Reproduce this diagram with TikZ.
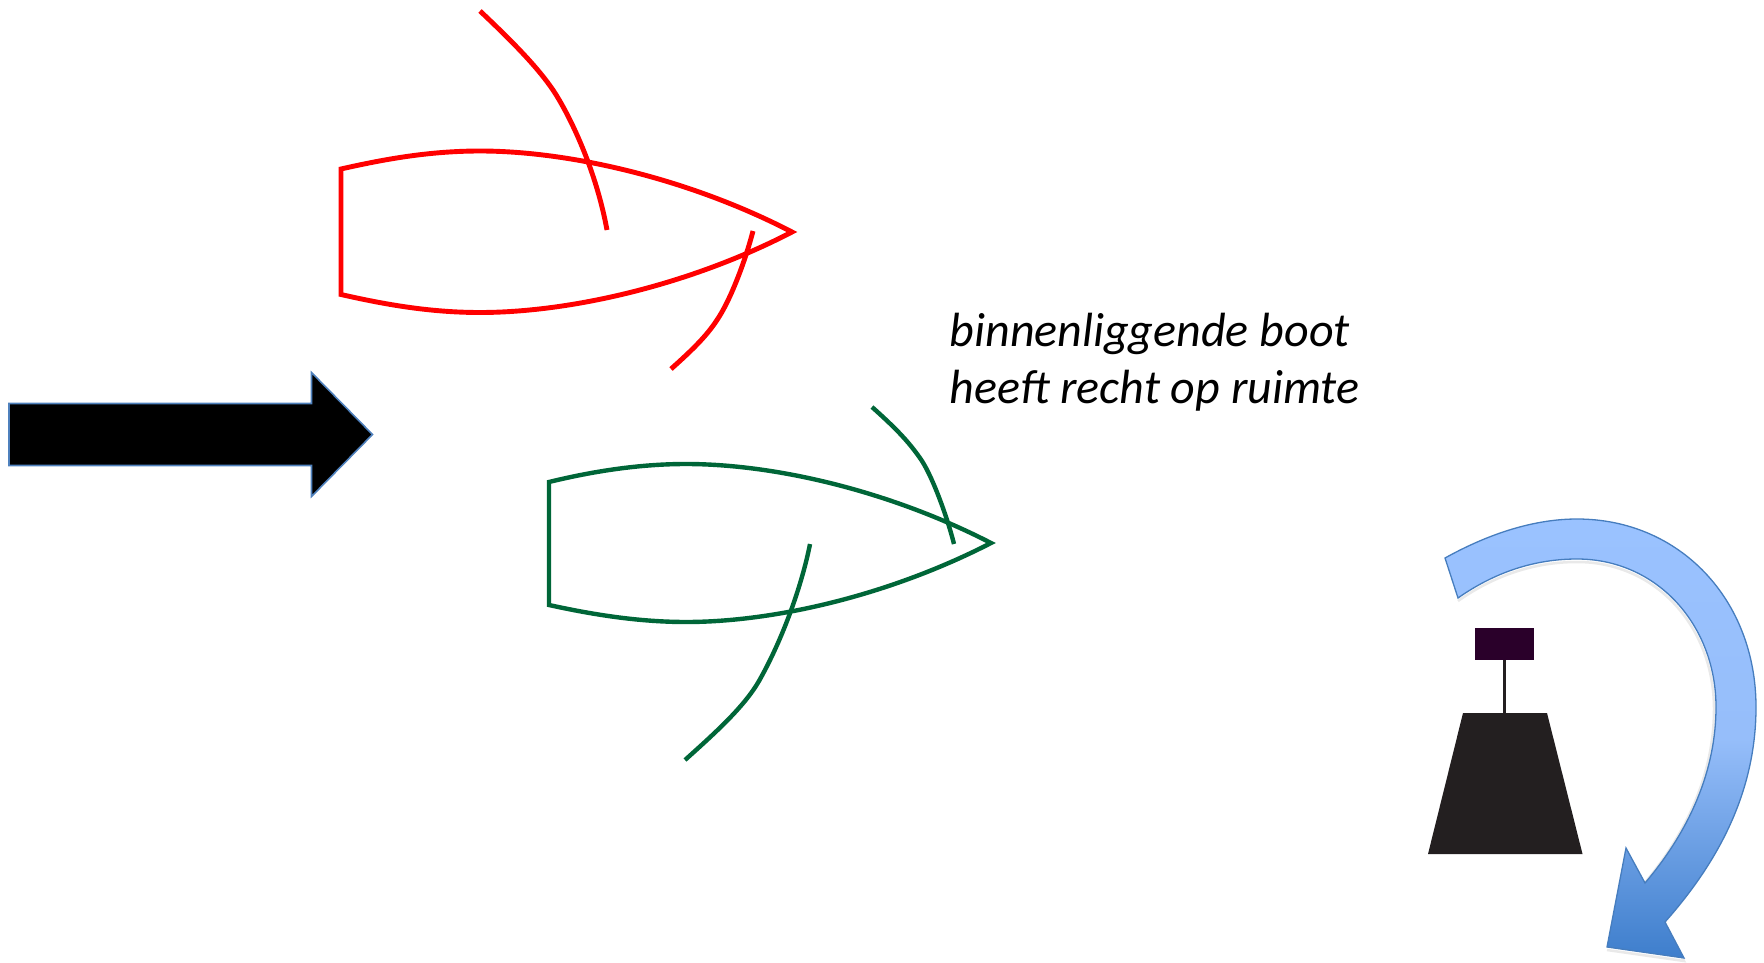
\documentclass[tikz,border=0pt]{standalone}
\usepackage{fontspec}
\setmainfont{Carlito}
\definecolor{sailred}{RGB}{255,0,0}
\definecolor{sailgreen}{RGB}{0,102,56}
\definecolor{edgeblue}{RGB}{79,129,189}
\definecolor{edgeblue2}{RGB}{70,125,190}
\definecolor{flagpurple}{RGB}{42,0,42}
\definecolor{buoyblack}{RGB}{35,31,32}
\tikzset{
  redline/.style={draw=sailred,line width=4.9pt,line join=miter},
  greenline/.style={draw=sailgreen,line width=4.4pt,line join=miter},
  windarrow/.style={fill=black,draw=edgeblue,line width=1.6pt,line join=miter},
  turnarrow/.style={draw=edgeblue2,line width=1.3pt,line join=miter,top color=tl,bottom color=tb,middle color=tm},
  softshadow/.style={draw=black!40,line width=2.5pt,opacity=.22},
  buoybody/.style={fill=buoyblack,draw=none},
  flagbox/.style={fill=flagpurple,draw=none,minimum width=59pt,minimum height=32pt,inner sep=0pt,outer sep=0pt},
  labeltext/.style={align=left,anchor=north west,inner sep=0pt,font=\fontsize{48}{57}\selectfont\itshape}
}
\definecolor{tl}{RGB}{154,194,255}
\definecolor{tm}{RGB}{150,190,250}
\definecolor{tb}{RGB}{62,126,204}
\begin{document}
\begin{tikzpicture}[x=1pt,y=-1pt]
\useasboundingbox (0,0) rectangle (1764,963);
% red boat
\draw[redline] (792,232) .. controls (690,179) and (570,151) .. (480,151) .. controls (430,151) and (385,159) .. (341,169) -- (341,294.5) .. controls (385,304.5) and (430,312.5) .. (480,312.5) .. controls (570,312.5) and (690,285) .. cycle;
\draw[redline] (480,11) .. controls (515,44) and (538,68) .. (553,90) .. controls (567,111) and (595,165) .. (607,230);
\draw[redline] (753,231) .. controls (745,262) and (730,301) .. (717,320) .. controls (706,337) and (690,352) .. (671,369);
% green boat
\draw[greenline] (991,543) .. controls (890,491) and (775,464) .. (686,464) .. controls (637,464) and (590,472) .. (549,482) -- (549,605) .. controls (590,614) and (637,622) .. (686,622) .. controls (775,622) and (890,595) .. cycle;
\draw[greenline] (872,407) .. controls (892,425) and (908,440) .. (922,461) .. controls (934,480) and (948,520) .. (954,544);
\draw[greenline] (810,544) .. controls (803,580) and (785,635) .. (759,681) .. controls (744,707) and (715,733) .. (685,760);
% wind arrow
\draw[windarrow] (9,403.5) -- (311.5,403.5) -- (311.5,372.5) -- (372.5,434.5) -- (311.5,496.5) -- (311.5,465.5) -- (9,465.5) -- cycle;
% text
\node[labeltext] (label) at (949.5,313) {binnenliggende boot\\heeft recht op ruimte};
% buoy
\draw[buoybody] (1463,713) -- (1547,713) -- (1582.5,854) -- (1428,854) -- cycle;
\node[flagbox] (flag) at (1504.5,644) {};
\coordinate (buoytop) at (1504.5,713);
\draw[buoyblack,line width=2.6pt] (flag.south) -- (buoytop);
% curved arrow
\draw[softshadow] (1458,601) .. controls (1495,575) and (1535,562) .. (1577,562) .. controls (1657,562) and (1714,628) .. (1714,709) .. controls (1714,772) and (1688,832) .. (1643,885);
\draw[softshadow] (1665,925) -- (1684,961) -- (1607,950);
\path[turnarrow] (1445,558) .. controls (1490,533) and (1535,519) .. (1577,519) .. controls (1680,519) and (1756,600) .. (1756,707) .. controls (1756,790) and (1720,860) .. (1665,922) -- (1684,958) -- (1607,947) -- (1626,848) -- (1645,883) .. controls (1690,830) and (1716,770) .. (1716,707) .. controls (1716,625) and (1657,559) .. (1577,559) .. controls (1535,559) and (1495,572) .. (1458,598) -- cycle;
\end{tikzpicture}
\end{document}
